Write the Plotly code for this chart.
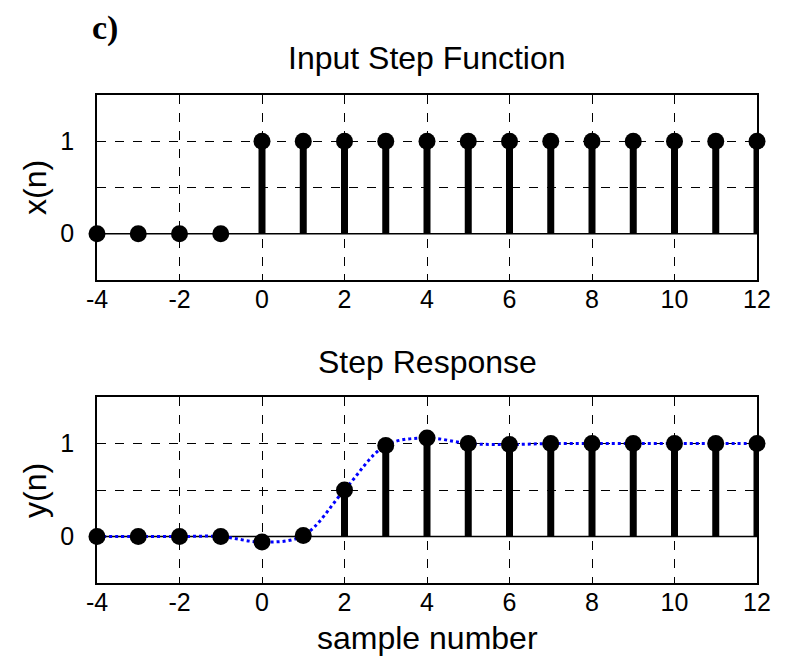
import plotly.graph_objects as go
from plotly.subplots import make_subplots

n = [-4, -3, -2, -1, 0, 1, 2, 3, 4, 5, 6, 7, 8, 9, 10, 11, 12]
x_step = [0, 0, 0, 0, 1, 1, 1, 1, 1, 1, 1, 1, 1, 1, 1, 1, 1]
y_resp = [0, 0, 0, 0, -0.06, 0.01, 0.5, 0.98, 1.06, 1.0, 0.99, 1.0, 1.0, 1.0, 1.0, 1.0, 1.0]
x_ticks = [-4, -2, 0, 2, 4, 6, 8, 10, 12]
x_ticktext = ["-4", "-2", "0", "2", "4", "6", "8", "10", "12"]
y_ticks = [0, 0.5, 1]
y_ticktext = ["0", "", "1"]

FONT = "Liberation Sans, Arial, sans-serif"

fig = make_subplots(rows=2, cols=1, vertical_spacing=0.24)

def stems(xs, ys):
    sx, sy = [], []
    for a, b in zip(xs, ys):
        sx += [a, a, None]
        sy += [0, b, None]
    return sx, sy

for row, vals in ((1, x_step), (2, y_resp)):
    fig.add_trace(go.Scatter(x=[n[0], n[-1]], y=[0, 0], mode="lines",
                             line=dict(color="black", width=1.5), showlegend=False,
                             hoverinfo="skip"), row=row, col=1)
    sx, sy = stems(n, vals)
    fig.add_trace(go.Scatter(x=sx, y=sy, mode="lines",
                             line=dict(color="black", width=7), showlegend=False,
                             hoverinfo="skip"), row=row, col=1)
    if row == 2:
        fig.add_trace(go.Scatter(x=n, y=vals, mode="lines",
                                 line=dict(color="blue", width=3, dash="dot",
                                           shape="spline", smoothing=1.0),
                                 showlegend=False, cliponaxis=False), row=row, col=1)
    fig.add_trace(go.Scatter(x=n, y=vals, mode="markers",
                             marker=dict(color="black", size=17),
                             showlegend=False, cliponaxis=False), row=row, col=1)

axis_common = dict(showline=True, linecolor="black", linewidth=1.5, mirror=True,
                   showgrid=True, gridcolor="black", griddash="dash", gridwidth=1,
                   zeroline=False, ticks="inside", ticklen=6, tickcolor="black",
                   tickfont=dict(family=FONT, size=25, color="black"))

for r in (1, 2):
    fig.update_xaxes(range=[-4, 12], tickvals=x_ticks, ticktext=x_ticktext,
                     ticklabelstandoff=-4, **axis_common, row=r, col=1)
    fig.update_yaxes(range=[-0.5, 1.5], tickvals=y_ticks, ticktext=y_ticktext,
                     ticklabelstandoff=16, **axis_common, row=r, col=1)

fig.update_layout(
    width=785, height=657,
    margin=dict(l=97, r=28, t=95, b=74, autoexpand=False),
    plot_bgcolor="white", paper_bgcolor="white",
    showlegend=False,
)
fig.update_yaxes(domain=[0.621, 1.0], row=1, col=1)
fig.update_yaxes(domain=[0.0, 0.381], row=2, col=1)

ann_font = dict(family=FONT, size=32, color="black")
fig.add_annotation(text="Input Step Function", xref="paper", yref="paper",
                   x=0.5, y=1.076, showarrow=False, font=ann_font,
                   xanchor="center", yanchor="middle")
fig.add_annotation(text="Step Response", xref="paper", yref="paper",
                   x=0.5, y=0.453, showarrow=False, font=ann_font,
                   xanchor="center", yanchor="middle")
fig.add_annotation(text="x(n)", xref="paper", yref="paper",
                   x=-0.094, y=(583 - 187) / 488, showarrow=False, font=ann_font,
                   textangle=-90, xanchor="center", yanchor="middle")
fig.add_annotation(text="y(n)", xref="paper", yref="paper",
                   x=-0.094, y=(583 - 490) / 488, showarrow=False, font=ann_font,
                   textangle=-90, xanchor="center", yanchor="middle")
fig.add_annotation(text="sample number", xref="paper", yref="paper",
                   x=0.5, y=(583 - 638) / 488, showarrow=False, font=ann_font,
                   xanchor="center", yanchor="middle")
fig.add_annotation(text="<b>c)</b>", xref="paper", yref="paper",
                   x=(105 - 97) / 660, y=(583 - 28) / 488, showarrow=False,
                   font=dict(family="Liberation Serif, Times New Roman, serif", size=34, color="black"),
                   xanchor="center", yanchor="middle")

fig.write_html("out.html", config={"displayModeBar": False},
               post_script="document.body.style.margin='0';")
